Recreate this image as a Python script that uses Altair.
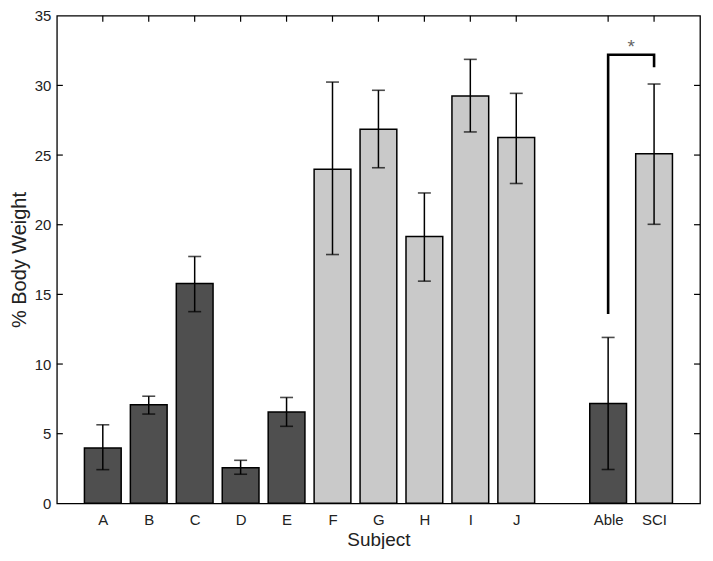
import altair as alt
import pandas as pd

# ---- data ----
subjects = ["A", "B", "C", "D", "E", "F", "G", "H", "I", "J", "Able", "SCI"]
positions = [1, 2, 3, 4, 5, 6, 7, 8, 9, 10, 12, 13]
means = [3.97, 7.07, 15.78, 2.56, 6.55, 23.99, 26.86, 19.15, 29.24, 26.26, 7.17, 25.10]
err_low = [2.42, 6.41, 13.76, 2.09, 5.53, 17.86, 24.09, 15.95, 26.66, 22.96, 2.43, 20.03]
err_high = [5.64, 7.69, 17.72, 3.09, 7.60, 30.24, 29.65, 22.28, 31.87, 29.43, 11.91, 30.10]
groups = ["Able-bodied"] * 5 + ["SCI"] * 5 + ["Able-bodied", "SCI"]

y_ticks = [0, 5, 10, 15, 20, 25, 30, 35]
inner_y_ticks = [5, 10, 15, 20, 25, 30]

# significance bracket (Able vs SCI)
bracket_x = [12, 12, 13, 13]
bracket_y = [13.6, 32.2, 32.2, 31.3]
star_x = [12.5]
star_y = [32.95]
star_text = ["*"]

W, H = 645, 489
FONT = "Liberation Sans"

df = pd.DataFrame({
    "subject": subjects, "pos": positions, "mean": means,
    "lo": err_low, "hi": err_high, "group": groups,
})
df_br = pd.DataFrame({"x": bracket_x, "y": bracket_y, "order": list(range(len(bracket_x)))})
df_star = pd.DataFrame({"x": star_x, "y": star_y, "t": star_text})
df_yt = pd.DataFrame({"v": inner_y_ticks})

label_arr = [""] * 15
for s, p in zip(subjects, positions):
    label_arr[p] = s
label_expr = "[" + ",".join("'" + s + "'" for s in label_arr) + "][datum.value]"

xscale = alt.Scale(domain=[0, 14], nice=False, zero=False)
yscale = alt.Scale(domain=[0, 35], nice=False)

base = alt.Chart(df)

bars = base.transform_calculate(
    x0="datum.pos - 0.4", x1="datum.pos + 0.4"
).mark_bar(stroke="black", strokeWidth=1.5).encode(
    x=alt.X("x0:Q", scale=xscale,
            axis=alt.Axis(values=positions, labelExpr=label_expr, title="Subject",
                          ticks=False, domain=False, grid=False, labelPadding=9,
                          labelFontSize=15, titleFontSize=19, titlePadding=3,
                          labelFont=FONT, titleFont=FONT, titleFontWeight="normal",
                          labelColor="#222", titleColor="#222")),
    x2="x1:Q",
    y=alt.Y("mean:Q", scale=yscale,
            axis=alt.Axis(values=y_ticks, title="% Body Weight", ticks=False,
                          domain=False, grid=False, labelPadding=6,
                          labelFontSize=15, titleFontSize=20, titlePadding=5,
                          labelFont=FONT, titleFont=FONT, titleFontWeight="normal",
                          labelColor="#222", titleColor="#222")),
    y2=alt.Y2(datum=0),
    color=alt.Color("group:N", scale=alt.Scale(domain=["Able-bodied", "SCI"],
                                              range=["#4f4f4f", "#c9c9c9"]), legend=None),
)

err = base.mark_rule(color="black", strokeWidth=1.5).encode(
    x=alt.X("pos:Q", scale=xscale), y=alt.Y("lo:Q", scale=yscale), y2="hi:Q"
)
cap_lo = base.mark_tick(color="black", orient="horizontal", size=13, thickness=1.6).encode(
    x=alt.X("pos:Q", scale=xscale), y=alt.Y("lo:Q", scale=yscale)
)
cap_hi = base.mark_tick(color="black", orient="horizontal", size=13, thickness=1.6).encode(
    x=alt.X("pos:Q", scale=xscale), y=alt.Y("hi:Q", scale=yscale)
)

bracket = alt.Chart(df_br).mark_line(color="black", strokeWidth=2.6).encode(
    x=alt.X("x:Q", scale=xscale), y=alt.Y("y:Q", scale=yscale), order="order:Q"
)
star = alt.Chart(df_star).mark_text(font=FONT, fontSize=19, color="#666", baseline="middle", dy=3).encode(
    x=alt.X("x:Q", scale=xscale), y=alt.Y("y:Q", scale=yscale), text="t:N"
)

# inward MATLAB-style ticks
top_ticks = base.mark_rule(color="black", strokeWidth=1.2).encode(
    x=alt.X("pos:Q", scale=xscale), y=alt.value(0), y2=alt.value(6)
)
left_ticks = alt.Chart(df_yt).mark_rule(color="black", strokeWidth=1.2).encode(
    y=alt.Y("v:Q", scale=yscale), x=alt.value(0), x2=alt.value(6)
)
right_ticks = alt.Chart(df_yt).mark_rule(color="black", strokeWidth=1.2).encode(
    y=alt.Y("v:Q", scale=yscale), x=alt.value(W - 6), x2=alt.value(W)
)

chart = alt.layer(
    bars, err, cap_lo, cap_hi, bracket, star, top_ticks, left_ticks, right_ticks
).properties(
    width=W, height=H,
    autosize=alt.AutoSizeParams(type="none"),
    padding={"left": 49, "top": 7, "right": 5, "bottom": 45},
    background="white",
).configure_view(stroke="black", strokeWidth=1.3)

chart.save("out.html", embed_options={"renderer": "svg", "actions": False})
